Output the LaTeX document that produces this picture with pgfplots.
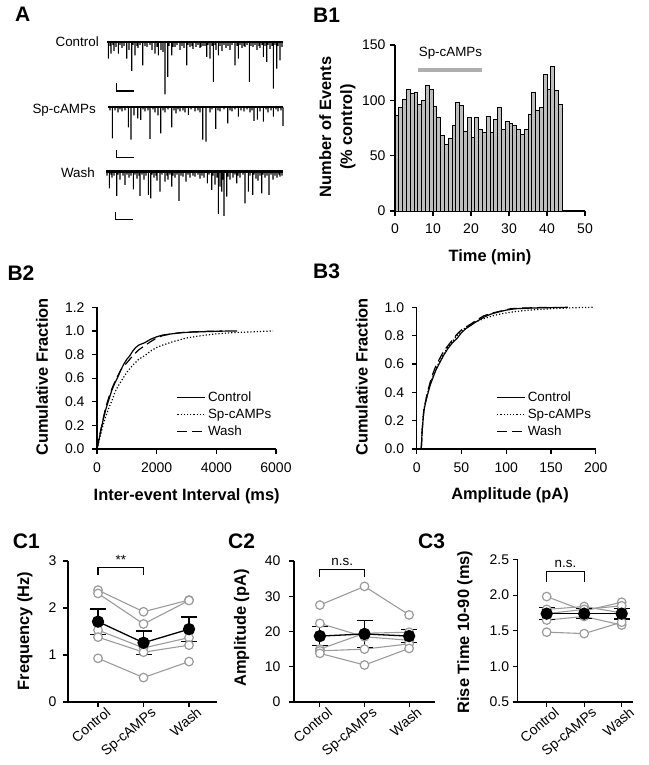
\documentclass[border=0pt]{standalone}
\usepackage{fontspec}
\setmainfont{Liberation Sans}
\usepackage{pgfplots}
\pgfplotsset{compat=1.18}

\definecolor{cg}{RGB}{155,155,155}
\definecolor{barfill}{RGB}{190,190,190}
\definecolor{spbar}{RGB}{175,175,175}

\newcommand\tickf{\fontsize{14}{16}\selectfont}
\newcommand\ctickf{\fontsize{14}{16}\selectfont}
\newcommand\labf{\fontsize{16.4}{21}\selectfont\bfseries}
\newcommand\panf{\fontsize{21}{24}\selectfont\bfseries}
\newcommand\smf{\fontsize{13.4}{16}\selectfont}

\pgfplotsset{
  base/.style={scale only axis, anchor=south west,
    axis x line*=bottom, axis y line*=left,
    tick align=outside, major tick length=5pt,
    axis line style={line width=1.2pt},
    tick style={black, line width=1.2pt},
    tick label style={font=\tickf},
    /pgf/number format/assume math mode=true,
    scaled x ticks=false, scaled y ticks=false,
    clip=false},
  trace/.style={scale only axis, anchor=south west, hide axis,
    xmin=100, xmax=290, ymin=-60, ymax=10, width=190pt, height=70pt, clip=false},
  spk/.style={ybar, bar width=1.1pt, bar shift=0pt, fill=black, draw=none},
  cell/.style={cg, line width=1.1pt, mark=*, mark size=4.3pt, mark options={fill=white, draw=cg, line width=1.2pt}},
  meanp/.style={black, line width=1.3pt, mark=*, mark size=5.5pt,
    error bars/.cd, y dir=both, y explicit,
    error bar style={line width=1.2pt, black},
    error mark options={rotate=90, mark size=8pt, line width=1.2pt, black}},
  catx/.style={xtick={0,1,2}, xticklabels={Control,Sp-cAMPs,Wash},
    x tick label style={xshift=7pt, yshift=2pt, rotate=40, anchor=north east, inner sep=1pt, font=\ctickf},
    y tick label style={font=\ctickf}},
  cdfleg/.style={legend style={at={(0.445,0.42)}, anchor=north west, draw=none, fill=none,
    font=\smf, inner sep=0pt, row sep=2pt, /tikz/every even column/.append style={column sep=5pt}},
    legend cell align=left,
    legend image code/.code={\draw[##1, line width=1.2pt] (0pt,0pt) -- (28pt,0pt);}},
}

\begin{document}
\begin{tikzpicture}[x=1pt,y=1pt]
\useasboundingbox (0,0) rectangle (648,765);

% ---------------- Panel A: traces ----------------
\begin{axis}[trace, at={(100pt,663pt)}]
\addplot[spk] coordinates {(108.3,-16.7)(111,-11.7)(114,-9)(118.3,-11.7)(122,-6)(126.7,-16.7)(129,-8)(131.7,-29)(135,-13.3)(138,-6)(142.7,-23.3)(147,-5)(152,-8)(155,-11.7)(158.3,-13.3)(161,-8)(163,-10)(165,-52.3)(167.7,-35)(171.7,-13.3)(175,-5)(180,-8)(184,-6)(186.7,-23.3)(190,-5)(193,-7)(196,-5)(200,-6)(203,-4)(206.7,-15)(210,-16.7)(213.3,-40)(216,-8)(218.3,-13.3)(222,-9)(226,-6)(230,-8)(235,-23.3)(238.3,-16.7)(242,-6)(245,-5)(249.3,-40)(253,-5)(257,-8)(260,-6)(263.3,-15)(266.7,-20)(270,-7)(273.3,-46.7)(276.7,-26.7)(280,-18.3)
(110,-4)(113,-3)(116,-5)(120,-3)(124,-4)(133,-3)(137,-4)(140,-3)(145,-4)(150,-3)(157,-5)(169,-4)(173,-5)(177,-3)(182,-4)(188,-3)(192,-4)(198,-3)(201,-5)(205,-4)(208,-3)(212,-4)(215,-3)(220,-4)(224,-3)(228,-4)(232,-3)(237,-4)(240,-3)(244,-4)(247,-3)(251,-4)(255,-3)(259,-4)(262,-3)(265,-4)(268,-3)(272,-4)(275,-3)(278,-4)(282,-5)};
\addplot[black, line width=2.4pt] coordinates {(107,0)(283,0)};
\addplot[black, line width=1.2pt] coordinates {(116.7,-41.3)(116.7,-49)(134,-49)};
\end{axis}

\begin{axis}[trace, at={(100pt,597.7pt)}]
\addplot[spk] coordinates {(112.3,-31)(118,-5)(122,-4)(128.3,-20)(131,-32.3)(134,-8)(137.7,-11)(140.7,-12.7)(145,-4)(150,-31.7)(155,-5)(158,-8)(160.7,-26)(165,-5)(171.7,-20)(176,-6)(180,-4)(185,-5)(188.3,-7.7)(195,-4)(200,-5)(202.7,-32.3)(206,-34.3)(210,-5)(215.7,-21.7)(220,-4)(227.7,-16)(232,-4)(238.3,-9.3)(244,-4)(250,-5)(254,-13.7)(257.3,-12.3)(260,-4)(263.3,-14.3)(268,-5)(273.3,-9.3)(278,-4)(283,-18.7)
(110,-3)(115,-3)(120,-2)(125,-3)(143,-2)(148,-3)(153,-2)(163,-3)(168,-2)(174,-3)(178,-2)(183,-3)(191,-2)(198,-3)(212,-2)(218,-3)(224,-2)(230,-3)(235,-2)(241,-3)(247,-2)(252,-3)(266,-2)(271,-3)(276,-2)(281,-3)};
\addplot[black, line width=2.4pt] coordinates {(108,0)(283,0)};
\addplot[black, line width=1.2pt] coordinates {(116.7,-42.7)(116.7,-50)(134,-50)};
\end{axis}

\begin{axis}[trace, at={(100pt,533.3pt)}]
\addplot[spk] coordinates {(109.3,-16.7)(112,-6)(116.7,-24.3)(120,-8)(125,-13.3)(129,-6)(133.3,-17.7)(137,-7)(140,-24.3)(144,-8)(148.3,-23.3)(150.7,-26.7)(154,-6)(157,-9)(160,-20)(165,-10)(168,-8)(171.7,-15)(175,-6)(179,-29.3)(183,-5)(186,-10)(190,-6)(195,-5)(200,-7)(204,-6)(207.3,-11.7)(211.7,-18.3)(215,-13)(218.3,-42.3)(220,-15)(221.7,-20)(224,-44.3)(226.7,-25)(230,-8)(233,-6)(236.7,-11.7)(240,-6)(245,-31.7)(248.3,-20)(252.7,-23.3)(256,-7)(258,-9)(261.7,-21.7)(265,-6)(269,-23.3)(273,-8)(277,-6)(280,-5)
(107,-4)(111,-3)(114,-4)(118,-3)(123,-4)(127,-3)(131,-4)(135,-3)(139,-4)(142,-3)(146,-4)(152,-3)(156,-4)(162,-3)(167,-4)(170,-3)(173,-4)(177,-3)(181,-4)(188,-3)(193,-4)(198,-3)(202,-4)(209,-3)(213,-4)(217,-6)(223,-8)(228,-5)(235,-3)(238,-4)(243,-3)(250,-4)(254,-3)(260,-4)(263,-3)(267,-4)(271,-3)(275,-4)(279,-3)(282,-4)};
\addplot[black, line width=2.4pt] coordinates {(106,0)(283,0)};
\addplot[black, line width=1.2pt] coordinates {(115.7,-40)(115.7,-47.7)(132.7,-47.7)};
\end{axis}

\node[anchor=east, inner sep=0pt, font=\smf] at (99,723) {Control};
\node[anchor=east, inner sep=0pt, font=\smf] at (96,655) {Sp-cAMPs};
\node[anchor=east, inner sep=0pt, font=\smf] at (95,592) {Wash};

% ---------------- Panel B1 ----------------
\begin{axis}[base, at={(395pt,554pt)}, width=190pt, height=166pt,
  xmin=0, xmax=50, ymin=0, ymax=150,
  xtick={0,10,20,30,40,50}, ytick={0,50,100,150},
  xticklabel shift=4pt, yticklabel shift=1pt]
\addplot[ybar interval, fill=barfill, draw=black, line width=0.8pt] coordinates {
(0,86.7)(1,93.7)(2,101.2)(3,110)(4,106.3)(5,107.2)(6,96.4)(7,100.3)(8,113.6)(9,110)
(10,94.9)(11,84.3)(12,68.7)(13,60.2)(14,65.4)(15,77.1)(16,98.5)(17,95.5)(18,71.7)(19,84.3)
(20,66.6)(21,84.3)(22,73.8)(23,70.8)(24,85.8)(25,70.8)(26,83.1)(27,93.7)(28,73.8)(29,81)
(30,79.2)(31,77.7)(32,73.8)(33,69.3)(34,73.8)(35,87.7)(36,106.9)(37,91.3)(38,93.7)(39,123.5)
(40,110)(41,130.4)(42,108.7)(43,96.4)(44,96.4)};
\addplot[spbar, line width=4pt] coordinates {(6.1,127.4)(23,127.4)};
\node[font=\smf] at (axis cs:14.6,142.5) {Sp-cAMPs};
\end{axis}
\node[rotate=90, align=center, font=\labf] at (337.5,638) {Number of Events\\(\% control)};
\node[font=\labf] at (490,508) {Time (min)};

% ---------------- Panel B2 ----------------
\begin{axis}[base, cdfleg, at={(97pt,316pt)}, width=179pt, height=141.7pt,
  xmin=0, xmax=6000, ymin=0, ymax=1.2,
  xtick={0,2000,4000,6000}, xticklabels={0,2000,4000,6000},
  ytick={0,0.2,0.4,0.6,0.8,1.0,1.2}, yticklabels={0.0,0.2,0.4,0.6,0.8,1.0,1.2},
  xticklabel shift=5pt, yticklabel shift=4pt]
\addplot[black, line width=1.2pt] coordinates {(0,0)(50,0.06)(100,0.12)(200,0.24)(300,0.34)(400,0.42)(500,0.5)(600,0.56)(700,0.61)(800,0.67)(900,0.72)(1000,0.76)(1100,0.79)(1200,0.83)(1300,0.86)(1400,0.88)(1600,0.9)(1800,0.93)(2000,0.95)(2200,0.965)(2500,0.975)(2800,0.985)(3200,0.99)(3800,0.995)(4200,0.998)(4700,1.0)};
\addlegendentry{Control}
\addplot[black, line width=1.2pt, dotted] coordinates {(0,0)(50,0.05)(100,0.1)(200,0.2)(300,0.28)(400,0.35)(500,0.41)(600,0.48)(700,0.53)(800,0.57)(900,0.61)(1000,0.65)(1200,0.71)(1400,0.76)(1600,0.79)(1800,0.83)(2000,0.86)(2200,0.88)(2500,0.905)(3000,0.94)(3500,0.96)(4000,0.975)(4500,0.985)(5000,0.99)(5900,1.0)};
\addlegendentry{Sp-cAMPs}
\addplot[black, line width=1.2pt, dash pattern=on 10pt off 5pt] coordinates {(0,0)(50,0.07)(100,0.13)(200,0.25)(300,0.36)(400,0.44)(500,0.51)(600,0.57)(700,0.62)(800,0.67)(900,0.7)(1000,0.73)(1100,0.76)(1200,0.79)(1400,0.84)(1600,0.875)(1800,0.91)(2000,0.94)(2200,0.96)(2500,0.975)(3000,0.99)(3500,0.995)(4200,1.0)};
\addlegendentry{Wash}
\end{axis}
\node[rotate=90, font=\labf] at (42,388) {Cumulative Fraction};
\node[font=\labf] at (186.7,268.3) {Inter-event Interval (ms)};

% ---------------- Panel B3 ----------------
\begin{axis}[base, cdfleg, at={(416.7pt,316pt)}, width=179pt, height=141.7pt,
  xmin=0, xmax=200, ymin=0, ymax=1.0,
  xtick={0,50,100,150,200},
  ytick={0,0.2,0.4,0.6,0.8,1.0}, yticklabels={0.0,0.2,0.4,0.6,0.8,1.0},
  xticklabel shift=5pt, yticklabel shift=4pt]
\addplot[black, line width=1.2pt] coordinates {(5,0)(5.5,0.05)(6,0.12)(7,0.2)(8,0.27)(10,0.33)(12,0.38)(15,0.45)(18,0.5)(21,0.55)(25,0.6)(30,0.66)(35,0.71)(40,0.75)(45,0.78)(50,0.82)(55,0.85)(60,0.87)(67,0.9)(75,0.93)(82,0.95)(90,0.965)(100,0.98)(110,0.99)(130,0.995)(169,1.0)};
\addlegendentry{Control}
\addplot[black, line width=1.2pt, dotted] coordinates {(5,0)(5.5,0.05)(6,0.13)(7,0.21)(8,0.28)(10,0.34)(12,0.39)(15,0.46)(18,0.51)(21,0.56)(25,0.61)(30,0.67)(35,0.72)(40,0.76)(45,0.8)(50,0.83)(55,0.86)(60,0.88)(67,0.9)(75,0.92)(85,0.94)(95,0.955)(110,0.97)(125,0.98)(150,0.99)(175,0.997)(198,1.0)};
\addlegendentry{Sp-cAMPs}
\addplot[black, line width=1.2pt, dash pattern=on 10pt off 5pt] coordinates {(5,0)(5.5,0.05)(6,0.12)(7,0.2)(8,0.27)(10,0.34)(12,0.4)(15,0.47)(18,0.53)(21,0.58)(25,0.63)(30,0.69)(35,0.73)(40,0.77)(45,0.81)(50,0.84)(55,0.86)(60,0.88)(67,0.91)(75,0.94)(85,0.96)(95,0.975)(105,0.99)(120,0.995)(150,1.0)};
\addlegendentry{Wash}
\end{axis}
\node[rotate=90, font=\labf] at (361.7,388) {Cumulative Fraction};
\node[font=\labf] at (510,270) {Amplitude (pA)};

% ---------------- Panel C1 ----------------
\begin{axis}[base, catx, at={(68pt,63pt)}, width=149pt, height=141pt,
  xmin=-0.66, xmax=2.615, ymin=0, ymax=3, ytick={0,1,2,3}, yticklabel shift=3pt]
\addplot[cell] coordinates {(0,2.38)(1,1.92)(2,2.17)};
\addplot[cell] coordinates {(0,2.31)(1,1.66)(2,2.16)};
\addplot[cell] coordinates {(0,1.53)(1,1.15)(2,1.37)};
\addplot[cell] coordinates {(0,1.38)(1,1.06)(2,1.21)};
\addplot[cell] coordinates {(0,0.93)(1,0.52)(2,0.86)};
\addplot[meanp] coordinates {(0,1.71) +- (0,0.27) (1,1.26) +- (0,0.25) (2,1.55) +- (0,0.26)};
\addplot[black, line width=1.2pt] coordinates {(0,2.70)(0,2.86)(1,2.86)(1,2.70)};
\node[font=\smf] at (axis cs:0.5,3.02) {**};
\end{axis}
\node[rotate=90, font=\labf] at (25,134) {Frequency (Hz)};

% ---------------- Panel C2 ----------------
\begin{axis}[base, catx, at={(294pt,63pt)}, width=141pt, height=141pt,
  xmin=-0.58, xmax=2.58, ymin=0, ymax=40, ytick={0,10,20,30,40}, yticklabel shift=5pt]
\addplot[cell] coordinates {(0,27.5)(1,32.8)(2,24.7)};
\addplot[cell] coordinates {(0,22.3)(1,18.5)(2,17.5)};
\addplot[cell] coordinates {(0,15.0)(1,19.5)(2,19.8)};
\addplot[cell] coordinates {(0,14.5)(1,15.0)(2,16.5)};
\addplot[cell] coordinates {(0,13.8)(1,10.5)(2,15.2)};
\addplot[meanp] coordinates {(0,18.7) +- (0,2.7) (1,19.3) +- (0,3.8) (2,18.7) +- (0,1.8)};
\addplot[black, line width=1.2pt] coordinates {(0,35.5)(0,37.6)(1,37.6)(1,35.5)};
\node[font=\smf] at (axis cs:0.5,39.8) {n.s.};
\end{axis}
\node[rotate=90, font=\labf] at (241.7,137) {Amplitude (pA)};

% ---------------- Panel C3 ----------------
\begin{axis}[base, catx, at={(517.7pt,63pt)}, width=115.6pt, height=142.5pt,
  xmin=-0.773, xmax=2.31, ymin=0.5, ymax=2.5, ytick={0.5,1.0,1.5,2.0,2.5},
  yticklabels={0.5,1.0,1.5,2.0,2.5}]
\addplot[cell] coordinates {(0,1.98)(1,1.78)(2,1.90)};
\addplot[cell] coordinates {(0,1.80)(1,1.84)(2,1.75)};
\addplot[cell] coordinates {(0,1.74)(1,1.80)(2,1.85)};
\addplot[cell] coordinates {(0,1.65)(1,1.70)(2,1.58)};
\addplot[cell] coordinates {(0,1.48)(1,1.46)(2,1.62)};
\addplot[meanp] coordinates {(0,1.74) +- (0,0.085) (1,1.74) +- (0,0.07) (2,1.74) +- (0,0.075)};
\addplot[black, line width=1.2pt] coordinates {(0,2.19)(0,2.33)(1,2.33)(1,2.19)};
\node[font=\smf] at (axis cs:0.5,2.44) {n.s.};
\end{axis}
\node[rotate=90, font=\labf] at (465,133) {Rise Time 10-90 (ms)};

% ---------------- Panel letters ----------------
\node[anchor=west, inner sep=0pt, font=\panf] at (15,750.5) {A};
\node[anchor=west, inner sep=0pt, font=\panf] at (313,750) {B1};
\node[anchor=west, inner sep=0pt, font=\panf] at (7.3,492.3) {B2};
\node[anchor=west, inner sep=0pt, font=\panf] at (313,493.3) {B3};
\node[anchor=west, inner sep=0pt, font=\panf] at (12.7,224) {C1};
\node[anchor=west, inner sep=0pt, font=\panf] at (228,224) {C2};
\node[anchor=west, inner sep=0pt, font=\panf] at (418,224) {C3};
\end{tikzpicture}
\end{document}
